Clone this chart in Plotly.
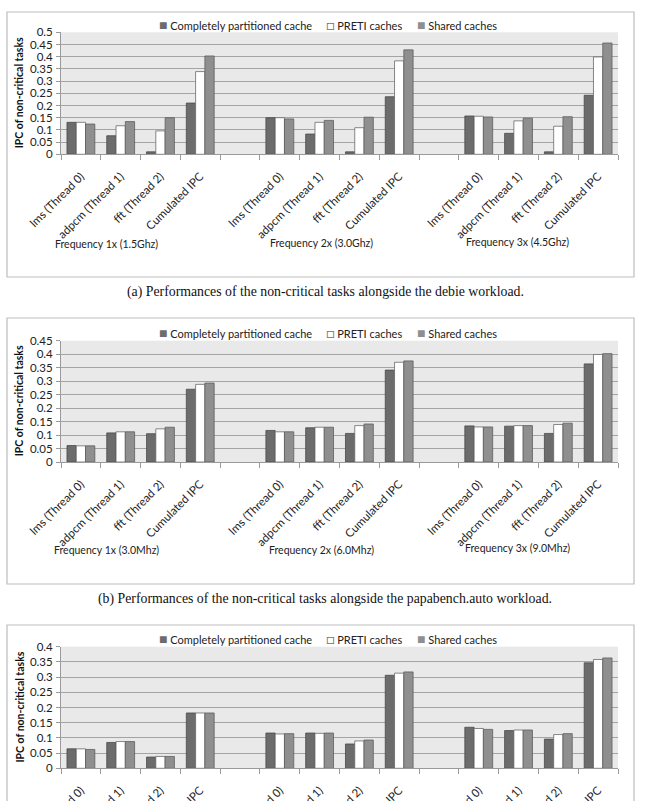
import plotly.graph_objects as go

# ---------------- data ----------------
threads = ["lms (Thread 0)", "adpcm (Thread 1)", "fft (Thread 2)", "Cumulated IPC"]
series_names = ["Completely partitioned cache", "PRETI caches", "Shared caches"]

freq_debie = ["Frequency 1x (1.5Ghz)", "Frequency 2x (3.0Ghz)", "Frequency 3x (4.5Ghz)"]
freq_papa = ["Frequency 1x (3.0Mhz)", "Frequency 2x (6.0Mhz)", "Frequency 3x (9.0Mhz)"]

caption_a = "(a) Performances of the non-critical tasks alongside the debie workload."
caption_b = "(b) Performances of the non-critical tasks alongside the papabench.auto workload."

# values per group: 1x, 2x, 3x (4 categories each)
debie_partitioned = [0.131, 0.076, 0.010, 0.210, 0.150, 0.083, 0.010, 0.236, 0.157, 0.086, 0.010, 0.242]
debie_preti       = [0.131, 0.117, 0.096, 0.339, 0.150, 0.131, 0.109, 0.383, 0.156, 0.137, 0.115, 0.399]
debie_shared      = [0.124, 0.134, 0.150, 0.403, 0.145, 0.139, 0.152, 0.428, 0.153, 0.148, 0.154, 0.456]

papa_partitioned = [0.061, 0.108, 0.105, 0.270, 0.117, 0.127, 0.106, 0.341, 0.134, 0.133, 0.106, 0.364]
papa_preti       = [0.060, 0.112, 0.123, 0.288, 0.112, 0.129, 0.135, 0.370, 0.130, 0.135, 0.139, 0.399]
papa_shared      = [0.060, 0.112, 0.129, 0.293, 0.112, 0.129, 0.141, 0.375, 0.130, 0.135, 0.144, 0.402]

third_partitioned = [0.064, 0.085, 0.037, 0.182, 0.116, 0.116, 0.080, 0.306, 0.135, 0.124, 0.096, 0.347]
third_preti       = [0.064, 0.088, 0.039, 0.182, 0.113, 0.115, 0.090, 0.313, 0.131, 0.126, 0.111, 0.358]
third_shared      = [0.062, 0.088, 0.039, 0.182, 0.114, 0.116, 0.093, 0.317, 0.128, 0.126, 0.114, 0.363]

y_title = "IPC of non-critical tasks"

# ---------------- styling ----------------
W, H = 645, 801
FONT = "Lato, 'Open Sans', sans-serif"
SERIF = "'Liberation Serif', 'Times New Roman', serif"
bar_colors = ["#6c6c6c", "#ffffff", "#8f8f8f"]
bar_lines = ["#4a4a4a", "#6a6a6a", "#5e5e5e"]
legend_glyph = ["■", "□", "■"]
legend_glyph_col = ["#6c6c6c", "#707070", "#8f8f8f"]


def fx(p):
    return p / W


def fy(p):
    return 1 - p / H


# slot positions: 4 categories per group + 1 empty slot between groups
slots = [g * 5 + t for g in range(3) for t in range(4)]
tickvals = list(range(14))
ticktext = []
for i in range(14):
    g, t = divmod(i, 5)
    ticktext.append(threads[t] if t < 4 else "")

panels = [
    dict(vals=(debie_partitioned, debie_preti, debie_shared), ymax=0.5, top=32.3, bottom=154.3,
         box=(12, 277), legend_y=25, freq=freq_debie, freq_y=(244, 243, 242), caption=caption_a, caption_y=292),
    dict(vals=(papa_partitioned, papa_preti, papa_shared), ymax=0.45, top=340.7, bottom=462.0,
         box=(318, 584), legend_y=332, freq=freq_papa, freq_y=(550, 550, 548), caption=caption_b, caption_y=599),
    dict(vals=(third_partitioned, third_preti, third_shared), ymax=0.4, top=646.7, bottom=768.3,
         box=(625, 900), legend_y=638, freq=None, freq_y=None, caption=None, caption_y=None),
]

fig = go.Figure()
layout = dict(
    width=W, height=H, margin=dict(l=0, r=0, t=0, b=0, pad=0),
    paper_bgcolor="white", plot_bgcolor="#e9e9e9", showlegend=False,
    barmode="group", bargap=0.3, bargroupgap=0.0,
    font=dict(family=FONT, color="#222222"),
)
shapes, annotations = [], []
freq_x = [106, 321, 517]
legend_x = [157, 324, 415]

for k, p in enumerate(panels):
    idx = "" if k == 0 else str(k + 1)
    xa, ya = "x" + idx, "y" + idx
    for s in range(3):
        fig.add_trace(go.Bar(
            x=slots, y=p["vals"][s], name=series_names[s], xaxis=xa, yaxis=ya,
            marker=dict(color=bar_colors[s], line=dict(color=bar_lines[s], width=0.8)),
            offsetgroup=str(s),
        ))
    layout["xaxis" + idx] = dict(
        domain=[fx(61), fx(618)], anchor=ya, range=[-0.5, 13.5], automargin=False,
        tickmode="array", tickvals=tickvals, ticktext=ticktext, ticks="",
        tickangle=-45, tickfont=dict(size=11.5, family=FONT, color="#222"),
        ticklabelstandoff=10,
        minor=dict(tickmode="linear", tick0=-0.5, dtick=1, ticks="outside", ticklen=5,
                   tickcolor="#9a9a9a", showgrid=False),
        showline=True, linecolor="#9a9a9a", linewidth=1, showgrid=False, zeroline=False,
    )
    layout["yaxis" + idx] = dict(
        domain=[fy(p["bottom"]), fy(p["top"])], anchor=xa, range=[0, p["ymax"]], automargin=False,
        dtick=0.05, tick0=0, ticks="outside", ticklen=4, tickcolor="#9a9a9a",
        tickfont=dict(size=11.5, family=FONT, color="#222"), ticklabelstandoff=1,
        showline=True, linecolor="#9a9a9a", linewidth=1,
        showgrid=True, gridcolor="#a4a4a4", gridwidth=1.2, zeroline=False,
    )
    # outer chart frame
    shapes.append(dict(type="rect", xref="paper", yref="paper", x0=fx(7), x1=fx(634),
                       y0=fy(p["box"][1]), y1=fy(p["box"][0]),
                       line=dict(color="#bdbdbd", width=1.2), fillcolor="rgba(0,0,0,0)", layer="below"))
    # y-axis title
    annotations.append(dict(text="<b>" + y_title + "</b>", xref="paper", yref="paper",
                            x=fx(19), y=fy((p["top"] + p["bottom"]) / 2), textangle=-90,
                            showarrow=False, font=dict(size=10.5, family=FONT, color="#111"),
                            xanchor="center", yanchor="middle"))
    # legend
    for s in range(3):
        annotations.append(dict(
            text='<span style="color:%s;font-size:14px">%s</span> %s' % (legend_glyph_col[s], legend_glyph[s], series_names[s]),
            xref="paper", yref="paper", x=fx(legend_x[s]), y=fy(p["legend_y"]),
            xanchor="left", yanchor="middle", showarrow=False,
            font=dict(size=11, family=FONT, color="#222")))
    # frequency group labels
    if p["freq"]:
        for g in range(3):
            annotations.append(dict(text=p["freq"][g], xref="paper", yref="paper",
                                    x=fx(freq_x[g]), y=fy(p["freq_y"][g]), showarrow=False,
                                    xanchor="center", yanchor="middle",
                                    font=dict(size=10.5, family=FONT, color="#222")))
    if p["caption"]:
        annotations.append(dict(text=p["caption"], xref="paper", yref="paper",
                                x=fx(325), y=fy(p["caption_y"]), showarrow=False,
                                xanchor="center", yanchor="middle",
                                font=dict(size=13.8, family=SERIF, color="#111")))

layout["shapes"] = shapes
layout["annotations"] = annotations
fig.update_layout(**layout)
fig.write_html("out.html")
